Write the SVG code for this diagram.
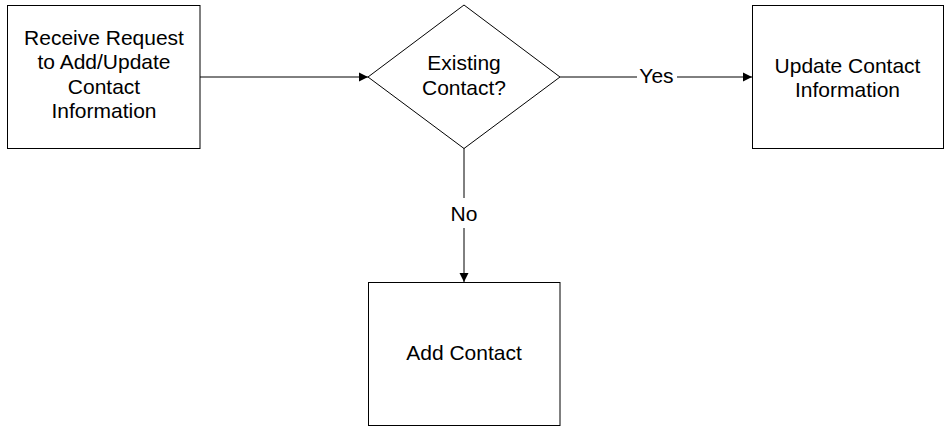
<svg xmlns="http://www.w3.org/2000/svg" width="946" height="427" viewBox="0 0 946 427">
<defs>
<style>
.shape{fill:#fff;stroke:#000;stroke-width:1}
.conn{fill:none;stroke:#000;stroke-width:1}
text{font-family:"Liberation Sans",Arial,sans-serif;font-size:21px;fill:#000;text-anchor:middle}
.lbl{fill:#fff}
</style>
<marker id="arr" markerWidth="10" markerHeight="10" refX="9" refY="5" orient="auto" markerUnits="userSpaceOnUse">
<path d="M0,0.5 L9,5 L0,9.5 Z" fill="#000"/>
</marker>
</defs>
<rect width="946" height="427" fill="#fff"/>
<g id="connectors">
<line class="conn" x1="200" y1="77" x2="368" y2="77" marker-end="url(#arr)"/>
<line class="conn" x1="560" y1="77" x2="752" y2="77" marker-end="url(#arr)"/>
<line class="conn" x1="464" y1="148" x2="464" y2="282" marker-end="url(#arr)"/>
<rect class="lbl" x="637" y="66" width="40" height="22"/>
<text x="656.5" y="83">Yes</text>
<rect class="lbl" x="450" y="198" width="28" height="30"/>
<text x="464" y="221">No</text>
</g>
<g id="receive">
<rect class="shape" x="7.5" y="5.5" width="192.5" height="143"/>
<text x="104" y="44.5">Receive Request</text>
<text x="104" y="69">to Add/Update</text>
<text x="104" y="93.5">Contact</text>
<text x="104" y="118">Information</text>
</g>
<g id="existing">
<polygon class="shape" points="464,5 560,77 464,148.5 368,77"/>
<text x="464" y="70">Existing</text>
<text x="464" y="95">Contact?</text>
</g>
<g id="update">
<rect class="shape" x="752.5" y="5.5" width="191" height="143"/>
<text x="847.5" y="73">Update Contact</text>
<text x="847.5" y="97">Information</text>
</g>
<g id="add">
<rect class="shape" x="368.5" y="282.5" width="191.5" height="143"/>
<text x="464" y="360">Add Contact</text>
</g>
</svg>
